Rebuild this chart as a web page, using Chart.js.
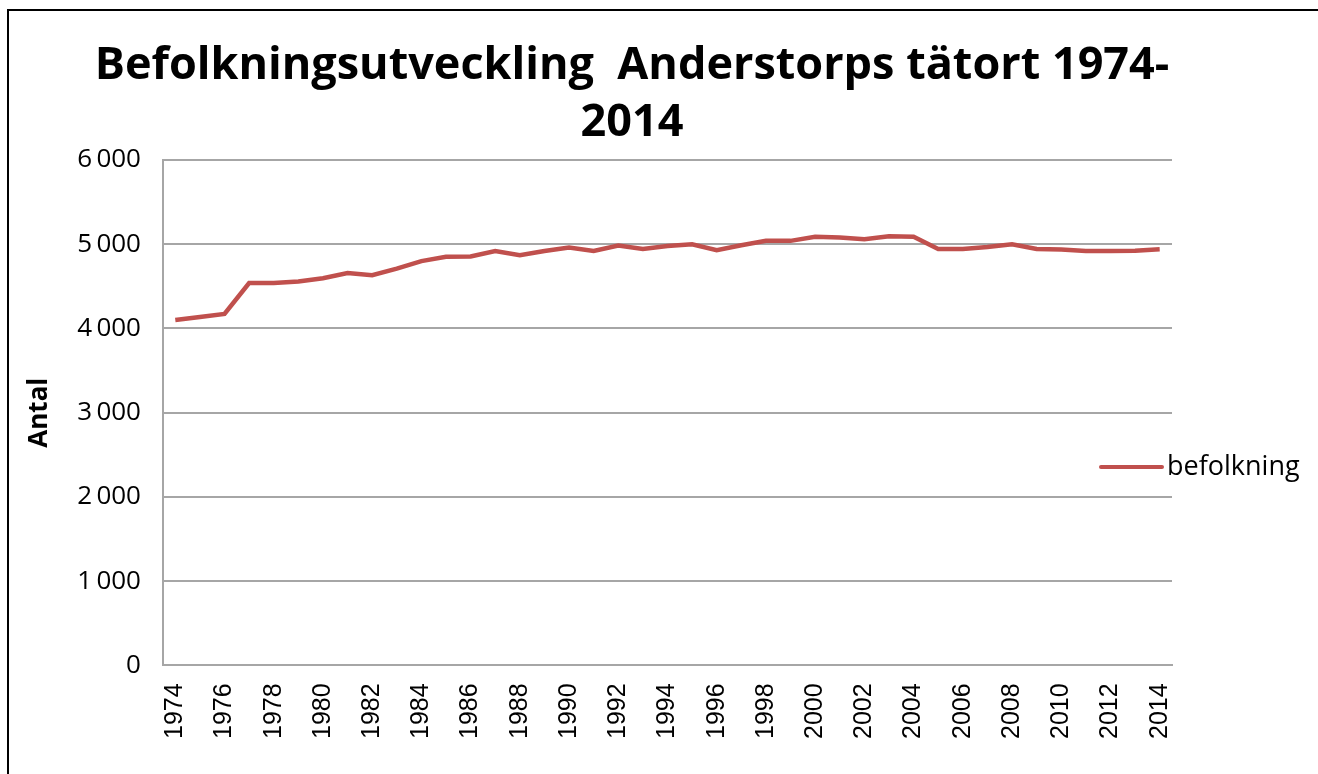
<!DOCTYPE html>
<html>
<head>
<meta charset="utf-8">
<script src="https://cdn.jsdelivr.net/npm/chart.js@4.4.1/dist/chart.umd.min.js"></script>
<style>
  html, body { margin: 0; padding: 0; background: #fff; }
  #wrap { position: relative; width: 1318px; height: 774px; overflow: hidden; }
  #frame { position: absolute; left: 7px; top: 9px; right: -10px; bottom: -10px;
           border-top: 2px solid #000; border-left: 2px solid #000; pointer-events: none; }
  canvas { position: absolute; left: 0; top: 0; }
</style>
</head>
<body>
<div id="wrap">
  <canvas id="popChart" width="1318" height="774"></canvas>
  <div id="frame"></div>
</div>
<script>
// Chart data
const titleLines = ['Befolkningsutveckling  Anderstorps tätort 1974-', '2014'];
const years = ['1974', '1975', '1976', '1977', '1978', '1979', '1980', '1981', '1982', '1983',
    '1984', '1985', '1986', '1987', '1988', '1989', '1990', '1991', '1992', '1993',
    '1994', '1995', '1996', '1997', '1998', '1999', '2000', '2001', '2002', '2003',
    '2004', '2005', '2006', '2007', '2008', '2009', '2010', '2011', '2012', '2013', '2014'];
const befolkning = [4100, 4136, 4172, 4540, 4540, 4558, 4597, 4657, 4633, 4710,
    4800, 4850, 4855, 4920, 4870, 4920, 4960, 4920, 4984, 4944,
    4980, 5000, 4928, 4988, 5040, 5040, 5088, 5080, 5060, 5096,
    5088, 4944, 4944, 4968, 5000, 4944, 4936, 4920, 4920, 4924, 4940];
const yAxisLabel = 'Antal';
const seriesName = 'befolkning';

// Title drawn as two centred lines (Excel-style wrap)
const titlePlugin = {
    id: 'wrappedTitle',
    afterDraw(chart) {
        const ctx = chart.ctx;
        ctx.save();
        ctx.font = 'bold 45px "Open Sans"';
        ctx.fillStyle = '#000';
        ctx.textAlign = 'center';
        ctx.textBaseline = 'middle';
        ctx.fillText(titleLines[0], 632, 66);
        ctx.fillText(titleLines[1], 632, 123);
        ctx.restore();
    }
};

// Legend sitting over the right edge of the plot
const sideLegend = {
    id: 'sideLegend',
    afterDraw(chart) {
        const ctx = chart.ctx;
        const ds = chart.data.datasets[0];
        const y = 467;
        ctx.save();
        ctx.strokeStyle = ds.borderColor;
        ctx.lineWidth = 4;
        ctx.lineCap = 'round';
        ctx.beginPath();
        ctx.moveTo(1101, y);
        ctx.lineTo(1162, y);
        ctx.stroke();
        ctx.font = '27px "Open Sans"';
        ctx.fillStyle = '#000';
        ctx.textBaseline = 'middle';
        ctx.fillText(ds.label, 1167, y);
        ctx.restore();
    }
};

new Chart(document.getElementById('popChart'), {
    type: 'line',
    data: {
        labels: years,
        datasets: [{
            label: seriesName,
            data: befolkning,
            borderColor: '#C0504D',
            backgroundColor: '#C0504D',
            borderWidth: 4.5,
            pointRadius: 0,
            tension: 0
        }]
    },
    options: {
        responsive: false,
        animation: false,
        layout: { padding: { left: 14, right: 146, top: 160, bottom: 17 } },
        scales: {
            x: {
                offset: true,
                grid: { display: false, drawTicks: false },
                border: { display: true, color: '#A6A6A6', width: 2 },
                ticks: {
                    autoSkip: false,
                    minRotation: 90,
                    maxRotation: 90,
                    padding: 18,
                    color: '#000',
                    font: { family: '"Liberation Sans"', size: 25 },
                    callback: (val, i) => (i % 2 === 0 ? years[i] : '')
                }
            },
            y: {
                min: 0,
                max: 6000,
                grid: { color: '#A6A6A6', lineWidth: 2, drawTicks: false },
                border: { display: true, color: '#A6A6A6', width: 2 },
                ticks: {
                    stepSize: 1000,
                    padding: 22,
                    color: '#000',
                    font: { family: '"Open Sans"', size: 26 },
                    callback: v => v >= 1000 ? Math.floor(v / 1000) + '\u2009' + '000' : String(v)
                },
                title: {
                    display: true,
                    text: yAxisLabel,
                    color: '#000',
                    font: { family: '"Open Sans"', size: 26, weight: 'bold' },
                    padding: { top: 10, bottom: 0 }
                }
            }
        },
        plugins: {
            legend: { display: false },
            title: { display: false },
            tooltip: { enabled: false }
        }
    },
    plugins: [titlePlugin, sideLegend]
});
</script>
</body>
</html>
